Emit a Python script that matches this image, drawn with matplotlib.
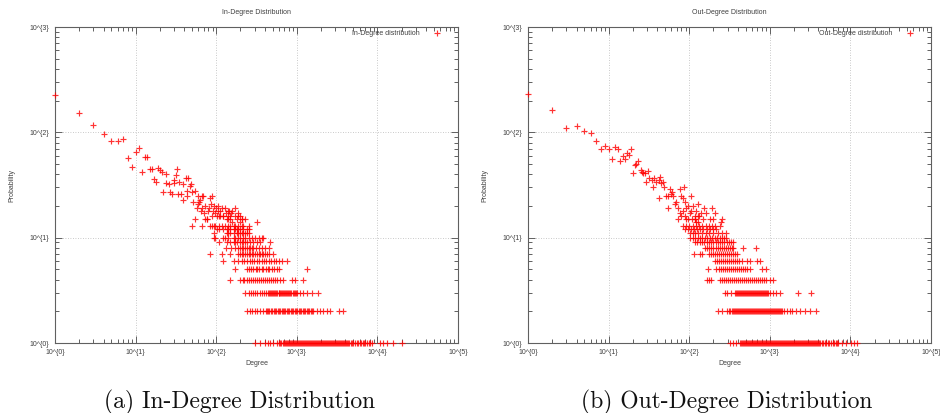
import numpy as np
import matplotlib
matplotlib.use("Agg")
import matplotlib.pyplot as plt

# ---------------- In-degree data (degree, count) ----------------
in_cloud_deg = [1, 2, 3, 4, 5, 6, 7, 8, 9, 10, 11, 12, 13, 14, 15, 16, 17, 18, 19, 20, 21, 22, 24, 24,
                26, 27, 28, 30, 30, 32, 33, 34, 35, 37, 39, 39, 42, 45, 43, 44, 47, 49, 50, 52, 54, 55,
                57, 59, 60, 61, 63, 65, 66, 67, 69, 71, 73, 76, 78, 81, 83, 86, 88, 91, 95, 97, 100,
                104, 106, 111, 117, 122, 129, 131, 139, 144, 153, 158, 171, 179, 188, 197, 207, 228,
                88, 102, 107, 112, 123, 142, 149, 172, 189, 199,
                73, 77, 136, 142, 149, 156, 208, 319]
in_cloud_cnt = [225, 152, 117, 96, 82, 82, 86, 57, 47, 65, 71, 42, 58, 58, 45, 45, 36, 34, 46, 44, 42, 27, 33, 40,
                32, 27, 26, 33, 35, 39, 45, 26, 34, 26, 32, 23, 37, 37, 28, 25, 31, 32, 27, 22, 28, 15,
                19, 21, 25, 22, 23, 18, 19, 25, 25, 17, 20, 15, 18, 19, 24, 21, 25, 18, 20, 17, 19,
                20, 18, 18, 19, 16, 19, 17, 18, 18, 17, 18, 19, 15, 17, 14, 15, 15,
                16, 16, 16, 16, 16, 16, 16, 16, 16, 16,
                15, 15, 15, 15, 15, 14, 15, 14]
in_cnt13 = [50, 66, 84, 88, 93, 97, 107, 118, 129, 142, 149, 164, 172, 189, 208, 218, 252]
in_cnt12 = [102, 107, 123, 136, 142, 149, 164, 172, 180, 189, 199, 218, 240, 252]
in_cnt11 = [93, 136, 142, 149, 164, 180, 189, 199, 208, 218, 229, 240, 252]
in_cnt10 = [93, 97, 123, 129, 142, 164, 172, 189, 199, 218, 229, 252, 277, 304, 335, 368, 386]
in_cnt9 = [107, 136, 149, 164, 172, 180, 199, 208, 218, 229, 240, 264, 290, 319, 351, 467]
in_cnt8 = [132, 152, 172, 189, 199, 208, 218, 229, 240, 252, 264, 277, 290, 313, 335, 368, 405, 446]
in_cnt7 = [83, 118, 149, 189, 199, 208, 218, 229, 240, 252, 264, 277, 290, 304, 319, 335, 351, 368, 386,
           405, 425, 446, 504]
in_cnt6 = [123, 164, 184, 208, 224, 240, 259, 277, 296, 319, 344, 368, 394, 417, 446, 476, 514, 555, 593,
           652, 766]
in_cnt5 = [172, 240, 256, 272, 290, 308, 325, 344, 365, 386, 409, 433, 458, 489, 523, 565, 610, 1356]
in_cnt4 = [149, 199, 212, 224, 240, 254, 269, 285, 301, 319, 338, 358, 379, 401, 425, 450, 476, 504, 538,
           575, 621, 670, 867, 953, 1210]
in_cnt3 = [229, 252, 269, 285, 304, 325, 351, 372, 394, 417, 441, 467, 494, 523, 555, 593, 621, 658, 697,
           738, 782, 827, 892, 953, 1019, 1100, 1210, 1330, 1535, 1857,
           455, 480, 508, 538, 574, 607, 640, 677, 717, 760, 804, 850, 920, 985]
in_cnt2 = [240, 259, 279, 301, 325, 351, 379, 409, 441, 476, 514, 555, 599, 646, 697, 752, 811, 875, 944,
           1019, 1100, 1186, 1280, 1381, 1492, 1610, 1771, 1945, 2142, 2357, 2590, 3380, 3790,
           430, 458, 495, 535, 577, 622, 671, 724, 781, 843, 909, 980, 1060, 1140, 1230, 1330, 1435, 1550]
in_cnt1 = [304, 351, 405, 433, 467, 504, 565, 599, 634, 670, 710, 752, 796, 843, 892, 944, 1000, 1059,
           1122, 1186, 1256, 1330, 1409, 1492, 1578, 1671, 1771, 1875, 1986, 2100, 2223, 2357, 2494,
           2638, 2793, 2957, 3133, 3318, 3508, 3715, 3933, 4167, 4413, 4667, 5035, 5546, 6094, 6577,
           7096, 7809, 8590, 10800, 11860, 13060, 15800, 20000,
           620, 690, 730, 775, 820, 870, 918, 970, 1030, 1090, 1150, 1220, 1290, 1370, 1450, 1530, 1620,
           1720, 1820, 1930, 2040, 2160, 2290, 2420, 2570, 2720, 2880, 3040, 3220, 3410, 3610, 3820,
           4050, 4290, 4850, 5280, 5800, 6330, 6830, 7450, 8200]

# ---------------- Out-degree data (degree, count) ----------------
out_cloud_deg = [1, 2, 3, 4, 5, 6, 7, 8, 9, 10, 11, 12, 13, 14, 15, 16, 17, 18, 19, 20, 21, 22, 23, 25,
                 26, 27, 28, 29, 31, 32, 35, 36, 37, 39, 42, 43, 45, 47, 49, 42, 51, 54, 55, 57, 59, 61,
                 63, 66, 69, 73, 76, 76, 80, 84, 84, 86, 88, 92, 92, 97, 101, 104, 106, 111, 117, 117,
                 122, 129, 129, 134, 141, 151, 163, 194, 207, 258,
                 73, 80, 88, 97, 107, 118, 123, 129, 149, 180, 199, 245]
out_cloud_cnt = [230, 163, 109, 115, 103, 98, 83, 69, 74, 69, 56, 72, 70, 53, 59, 56, 63, 61, 69, 41, 49, 50, 53, 44,
                 42, 41, 41, 34, 43, 37, 35, 30, 37, 34, 35, 38, 33, 34, 30, 24, 25, 25, 19, 29, 26, 27,
                 25, 21, 22, 19, 29, 17, 25, 24, 18, 30, 22, 19, 15, 20, 17, 25, 18, 20, 16, 15,
                 18, 21, 14, 16, 17, 19, 17, 19, 17, 15,
                 15, 16, 16, 15, 15, 15, 14, 16, 15, 15, 15, 14]
out_cnt13 = [84, 92, 100, 110, 120, 132, 145, 160, 175, 190, 210, 240]
out_cnt12 = [88, 96, 105, 115, 125, 136, 150, 165, 180, 200, 218]
out_cnt11 = [102, 110, 118, 130, 145, 160, 178, 200, 225, 255, 290]
out_cnt10 = [102, 110, 118, 127, 136, 146, 157, 168, 180, 193, 207, 222, 238, 255, 273, 290]
out_cnt9 = [118, 126, 135, 144, 154, 164, 175, 187, 199, 212, 226, 241, 257, 274, 292, 311, 331, 351]
out_cnt8 = [159, 168, 178, 189, 200, 212, 225, 238, 252, 267, 283, 300, 318, 337, 351, 467, 670]
out_cnt7 = [115, 136, 145, 177, 188, 199, 211, 223, 236, 250, 265, 281, 297, 315, 333, 353, 374, 396]
out_cnt6 = [208, 220, 233, 247, 262, 277, 294, 311, 330, 349, 370, 392, 415, 446, 517, 565, 684, 752]
out_cnt5 = [172, 218, 231, 245, 260, 275, 292, 309, 328, 347, 368, 390, 413, 438, 464, 491, 520, 565,
            789, 910]
out_cnt4 = [167, 178, 189, 240, 255, 270, 286, 303, 321, 340, 360, 381, 404, 428, 453, 480, 508, 538, 570,
            604, 640, 678, 718, 761, 806, 854, 905, 1000, 1100]
out_cnt3 = [277, 295, 330, 368, 390, 413, 438, 464, 491, 520, 551, 584, 618, 655, 694, 735, 779, 825, 874,
            926, 953, 1010, 1100, 1200, 1330, 2245, 3224,
            378, 401, 426, 451, 478, 505, 535, 567, 601, 636, 674, 714, 757, 802, 850, 900]
out_cnt2 = [229, 252, 296, 315, 335, 355, 376, 399, 423, 448, 475, 503, 533, 565, 599, 635, 673, 713, 756,
            801, 849, 900, 954, 1011, 1071, 1135, 1203, 1275, 1351, 1432, 1517, 1650, 1770, 1900, 2100,
            2400, 2700, 3133, 3790,
            325, 345, 365, 387, 411, 435, 461, 489, 518, 549, 582, 617, 654, 693, 734, 778, 825, 874,
            927, 982, 1041, 1103, 1169, 1239, 1313, 1391]
out_cnt1 = [319, 351, 379, 425, 450, 476, 504, 534, 565, 599, 634, 672, 712, 754, 799, 846, 896, 949,
            1005, 1065, 1128, 1195, 1266, 1341, 1420, 1504, 1593, 1688, 1788, 1894, 2006, 2125, 2251,
            2384, 2526, 2675, 2834, 3002, 3180, 3368, 3568, 3779, 4003, 4240, 4580, 5000, 5500, 6050,
            6600, 7100, 7800, 8900, 10300, 11000, 12100,
            437, 463, 490, 519, 549, 582, 616, 653, 692, 733, 776, 822, 871, 922, 977, 1035, 1096, 1161,
            1230, 1303, 1380, 1462, 1549, 1640, 1738, 1841, 1950, 2065, 2188, 2317, 2455, 2600, 2754,
            2918, 3090, 3274, 3468, 3673, 3891, 4120, 4400, 4780, 5250, 5770, 6300, 6850]

x_tick_values = [1, 10, 100, 1000, 10000, 100000]
x_tick_labels = ["10^{0}", "10^{1}", "10^{2}", "10^{3}", "10^{4}", "10^{5}"]
y_tick_values = [1, 10, 100, 1000]
y_tick_labels = ["10^{0}", "10^{1}", "10^{2}", "10^{3}"]

titles = ["In-Degree Distribution", "Out-Degree Distribution"]
legend_labels = ["In-Degree distribution", "Out-Degree distribution"]
captions = ["(a) In-Degree Distribution", "(b) Out-Degree Distribution"]


def assemble(cloud_deg, cloud_cnt, rows):
    xs = list(cloud_deg)
    ys = list(cloud_cnt)
    for cnt, degs in rows:
        xs += list(degs)
        ys += [cnt] * len(degs)
    return np.array(xs, float), np.array(ys, float)


in_x, in_y = assemble(in_cloud_deg, in_cloud_cnt,
                      [(13, in_cnt13), (12, in_cnt12), (11, in_cnt11), (10, in_cnt10), (9, in_cnt9),
                       (8, in_cnt8), (7, in_cnt7), (6, in_cnt6), (5, in_cnt5), (4, in_cnt4),
                       (3, in_cnt3), (2, in_cnt2), (1, in_cnt1)])
out_x, out_y = assemble(out_cloud_deg, out_cloud_cnt,
                        [(13, out_cnt13), (12, out_cnt12), (11, out_cnt11), (10, out_cnt10), (9, out_cnt9),
                         (8, out_cnt8), (7, out_cnt7), (6, out_cnt6), (5, out_cnt5), (4, out_cnt4),
                         (3, out_cnt3), (2, out_cnt2), (1, out_cnt1)])

plt.rcParams['font.family'] = ['Liberation Sans', 'DejaVu Sans']
TXT = '#404040'
EDGE = '#606060'

fig = plt.figure(figsize=(9.4, 4.13), dpi=100)
W, H = 940.0, 413.0
axes_px = [(55, 458), (528, 931)]
top_px, bot_px = 27, 343
caption_x = [240 / W, 727 / W]

for i, (xs, ys) in enumerate([(in_x, in_y), (out_x, out_y)]):
    l, r = axes_px[i]
    ax = fig.add_axes([l / W, 1 - bot_px / H, (r - l) / W, (bot_px - top_px) / H])
    ax.set_xscale('log')
    ax.set_yscale('log')
    ax.set_xlim(1, 1e5)
    ax.set_ylim(1, 1e3)
    ax.plot(xs, ys, linestyle='none', marker='+', color='#ff0000', alpha=0.8,
            markersize=3.8, markeredgewidth=0.85, label=legend_labels[i], zorder=3, clip_on=False)
    ax.set_xticks(x_tick_values)
    ax.set_xticklabels(x_tick_labels)
    ax.set_yticks(y_tick_values)
    ax.set_yticklabels(y_tick_labels)
    ax.xaxis.set_minor_locator(matplotlib.ticker.LogLocator(base=10, subs=np.arange(2, 10)))
    ax.yaxis.set_minor_locator(matplotlib.ticker.LogLocator(base=10, subs=np.arange(2, 10)))
    ax.xaxis.set_minor_formatter(matplotlib.ticker.NullFormatter())
    ax.yaxis.set_minor_formatter(matplotlib.ticker.NullFormatter())
    ax.tick_params(which='both', direction='in', top=True, right=True, color=EDGE,
                   labelsize=5, labelcolor=TXT, width=0.7)
    ax.tick_params(which='major', length=5, pad=4)
    ax.tick_params(which='minor', length=3)
    for s in ax.spines.values():
        s.set_color(EDGE)
        s.set_linewidth(0.8)
    ax.grid(True, which='major', color='#b8b8b8', linestyle=(0, (1, 2)), linewidth=0.6)
    ax.set_axisbelow(True)
    ax.set_title(titles[i], fontsize=5, color=TXT, pad=9)
    ax.set_xlabel('Degree', fontsize=5, color=TXT)
    ax.set_ylabel('Probability', fontsize=5, color=TXT)
    ax.xaxis.set_label_coords(0.5, -0.055)
    ax.yaxis.set_label_coords(-0.098, 0.5)
    leg = ax.legend(loc='upper right', bbox_to_anchor=(1 - 14 / 403, 0.997), frameon=False,
                    markerfirst=False, fontsize=5, handlelength=1.5, handletextpad=1.7,
                    borderpad=0.3, borderaxespad=0, numpoints=1)
    for t in leg.get_texts():
        t.set_color(TXT)
    fig.text(caption_x[i], 1 - 408 / H, captions[i], family='cmr10', fontsize=17,
             ha='center', va='baseline', color='#111111')

fig.savefig('out.png', dpi=100)
